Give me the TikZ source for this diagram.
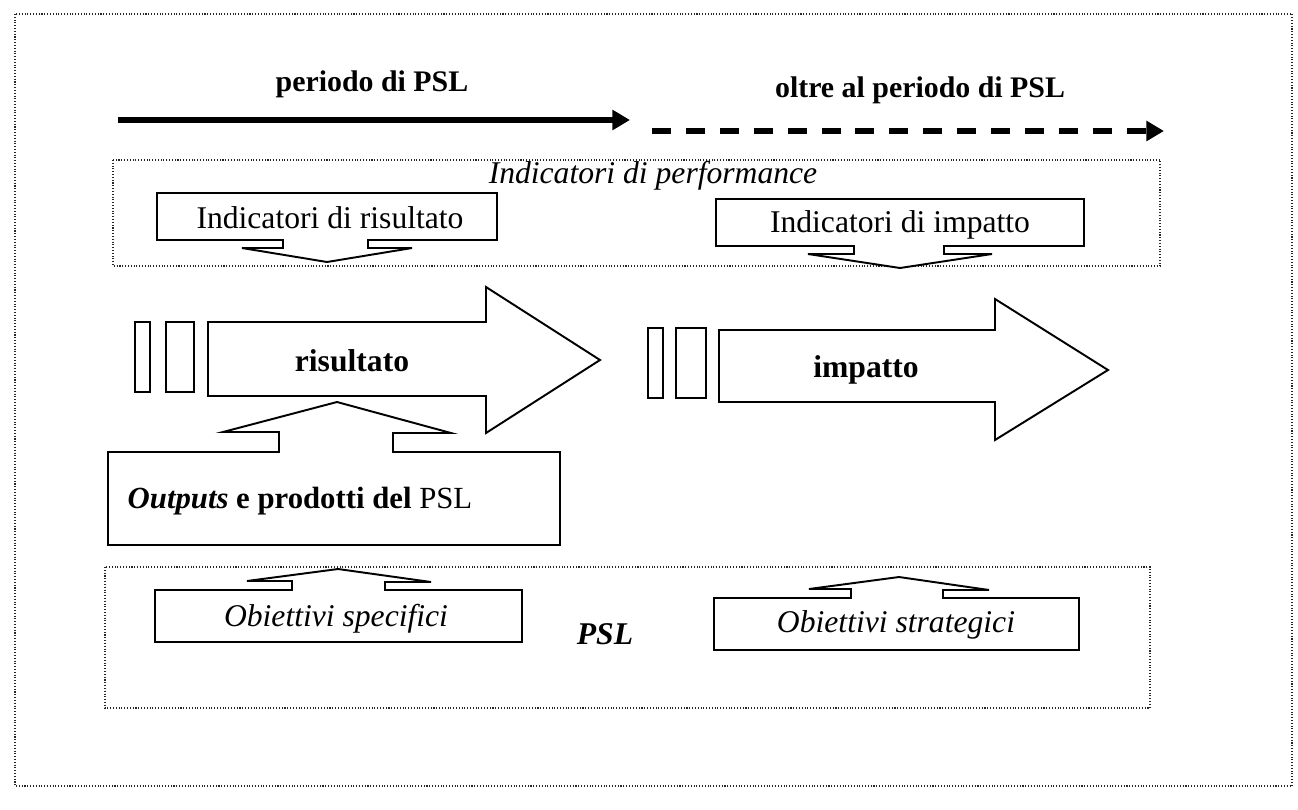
\documentclass[tikz,border=0pt]{standalone}
\usepackage{fontspec}
\setmainfont{Liberation Serif}
\usetikzlibrary{arrows.meta}
\tikzset{
  frame/.style={densely dotted, line width=0.6pt, draw=black!85},
  shapeline/.style={draw=black, line width=1.1pt, line join=miter, fill=white},
  timearrow/.style={line width=3pt, -{Triangle[length=10pt,width=11pt]}},
  fs/.style={font=\fontsize{18}{20}\selectfont},
  fsb/.style={font=\fontsize{18}{20}\selectfont\bfseries},
  fst/.style={font=\fontsize{17}{19}\selectfont\bfseries},
  fsi/.style={font=\fontsize{18}{20}\selectfont\itshape},
  lbl/.style={inner sep=0pt, anchor=center}
}
\begin{document}
\begin{tikzpicture}[x=0.02cm,y=-0.02cm]
\useasboundingbox (0,0) rectangle (1298,809);
% outer frame
\draw[frame] (15,14) rectangle (1292,786);
% time arrows
\node[lbl, fst] (periodo) at (372,84) {periodo di PSL};
\node[lbl, fst] (oltre) at (920,90) {oltre al periodo di PSL};
\coordinate (a0) at (118,120);
\coordinate (a1) at (630,120);
\coordinate (b0) at (652,131);
\coordinate (b1) at (1164,131);
\draw[timearrow] (a0) -- (a1);
\draw[timearrow, dash pattern=on 10.8pt off 8.5pt] (b0) -- (b1);
% performance box
\draw[frame] (113,160) rectangle (1160,266);
\node[lbl, fsi] (perf) at (653,176) {Indicatori di performance};
% Indicatori di risultato callout (down)
\draw[shapeline] (157,193) -- (497,193) -- (497,240) -- (368,240) -- (368,248) -- (412,248)
  -- (327,262) -- (242,248) -- (283,248) -- (283,240) -- (157,240) -- cycle;
\node[lbl, fs] (indris) at (330,218) {Indicatori di risultato};
% Indicatori di impatto callout (down)
\draw[shapeline] (716,199) -- (1084,199) -- (1084,246) -- (944,246) -- (944,254) -- (992,254)
  -- (900,268) -- (808,254) -- (854,254) -- (854,246) -- (716,246) -- cycle;
\node[lbl, fs] (indimp) at (900,225) {Indicatori di impatto};
% risultato arrow
\draw[shapeline] (135,322) rectangle (150,392);
\draw[shapeline] (166,322) rectangle (194,392);
\draw[shapeline] (208,322) -- (486,322) -- (486,287) -- (600,360) -- (486,433) -- (486,396) -- (208,396) -- cycle;
\node[lbl, fsb] (ris) at (352,361) {risultato};
% impatto arrow
\draw[shapeline] (648,328) rectangle (663,398);
\draw[shapeline] (676,328) rectangle (706,398);
\draw[shapeline] (719,330) -- (995,330) -- (995,299) -- (1108,370) -- (995,440) -- (995,402) -- (719,402) -- cycle;
\node[lbl, fsb] (imp) at (866,370) {impatto};
% Outputs callout (up)
\draw[shapeline] (108,545) -- (108,452) -- (279,452) -- (279,432) -- (223,432) -- (337,402)
  -- (451,433) -- (393,433) -- (393,452) -- (560,452) -- (560,545) -- cycle;
\node[lbl, font=\fontsize{17.5}{19}\selectfont] (outp) at (300,501) {\textbf{\textit{Outputs}} \textbf{e prodotti del} PSL};
% PSL box
\draw[frame] (105,567) rectangle (1150,708);
\node[lbl, font=\fontsize{18}{20}\selectfont\bfseries\itshape] (psl) at (605,634) {PSL};
% Obiettivi specifici callout (up)
\draw[shapeline] (155,642) -- (155,590) -- (292,590) -- (292,581) -- (247,581) -- (338,569)
  -- (431,582) -- (385,582) -- (385,590) -- (522,590) -- (522,642) -- cycle;
\node[lbl, fsi] (obspec) at (336,619) {Obiettivi specifici};
% Obiettivi strategici callout (up)
\draw[shapeline] (714,650) -- (714,598) -- (851,598) -- (851,589) -- (809,589) -- (899,577)
  -- (989,590) -- (943,590) -- (943,598) -- (1079,598) -- (1079,650) -- cycle;
\node[lbl, fsi] (obstrat) at (896,625) {Obiettivi strategici};
\end{tikzpicture}
\end{document}
